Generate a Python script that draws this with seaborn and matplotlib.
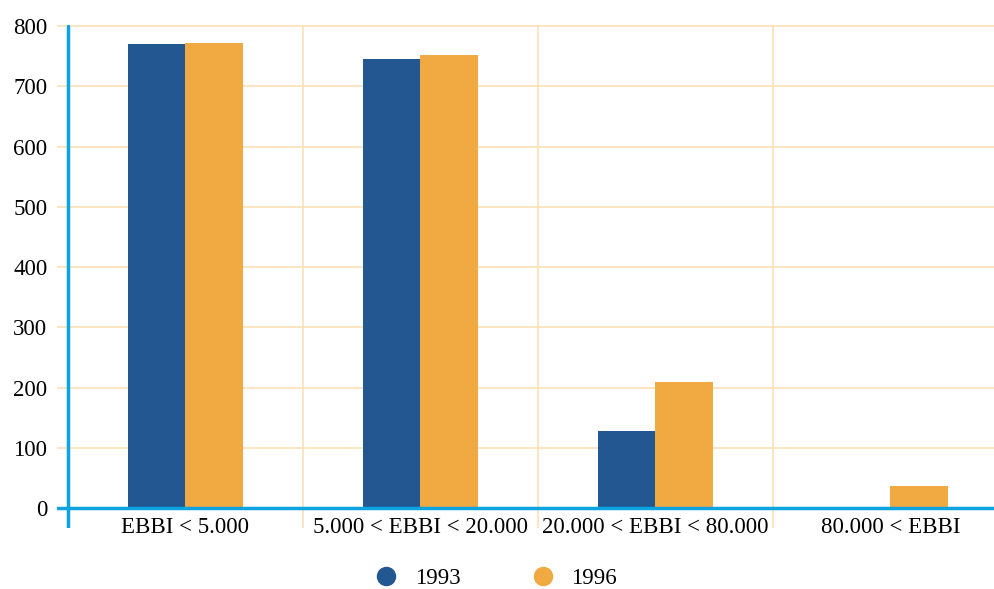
import seaborn as sns
import matplotlib.pyplot as plt
from matplotlib.lines import Line2D
import numpy as np
import pandas as pd

# Datos
categorias = ["EBBI < 5.000", "5.000 < EBBI < 20.000", "20.000 < EBBI < 80.000", "80.000 < EBBI"]
valores_1993 = [770, 745, 128, np.nan]
valores_1996 = [772, 753, 209, 37]
anios = ["1993", "1996"]
colores = ["#235792", "#F1A941"]

df = pd.DataFrame({
    "categoria": categorias * 2,
    "valor": valores_1993 + valores_1996,
    "anio": [anios[0]] * 4 + [anios[1]] * 4,
})

sns.set_style("white")
plt.rcParams["font.family"] = ["Liberation Serif", "DejaVu Serif"]
plt.rcParams["text.color"] = "black"
plt.rcParams["xtick.color"] = "black"
plt.rcParams["ytick.color"] = "black"

fig = plt.figure(figsize=(9.94, 5.89), dpi=100)
ax = fig.add_axes([57 / 994, 1 - 528 / 589, 1 - 57 / 994, (528 - 25) / 589])

sns.barplot(data=df, x="categoria", y="valor", hue="anio", palette=colores,
            width=0.49, saturation=1, ax=ax, legend=False, zorder=3,
            linewidth=0)

# Rejilla
grid_color = "#FCE0B5"
for v in range(100, 900, 100):
    ax.axhline(v, color=grid_color, lw=1.2, zorder=1)
for xv in [0.5, 1.5, 2.5]:
    ax.axvline(xv, color=grid_color, lw=1.2, zorder=1)

axis_blue = "#0CA3E0"
ax.axhline(0, color=axis_blue, lw=2.5, zorder=4)
ax.axvline(-0.5, ymax=(800 + 33) / (802 + 33), color=axis_blue, lw=2.5, zorder=4)

ax.set_xlim(-0.5 - 11 / 235, -0.5 + 926 / 235)
ax.set_ylim(-33, 802)
for s in ax.spines.values():
    s.set_visible(False)

ax.set_yticks(range(0, 900, 100))
ax.set_yticklabels([str(v) for v in range(0, 900, 100)])
ax.tick_params(axis="y", length=0, pad=7, labelsize=16.5)
ax.tick_params(axis="x", length=0, pad=-8, labelsize=16.5)
for lbl in ax.get_xticklabels():
    lbl.set_verticalalignment("top")
ax.set_xlabel("")
ax.set_ylabel("")

# Leyenda
handles = [Line2D([], [], marker="o", ls="", markersize=13, color=c) for c in colores]
fig.legend(handles, anios, loc="center", bbox_to_anchor=(0.493, 1 - 578 / 589),
           ncol=2, frameon=False, fontsize=16.5, handletextpad=0.25, columnspacing=2.6)

plt.savefig("out.png", dpi=100)
plt.close()
